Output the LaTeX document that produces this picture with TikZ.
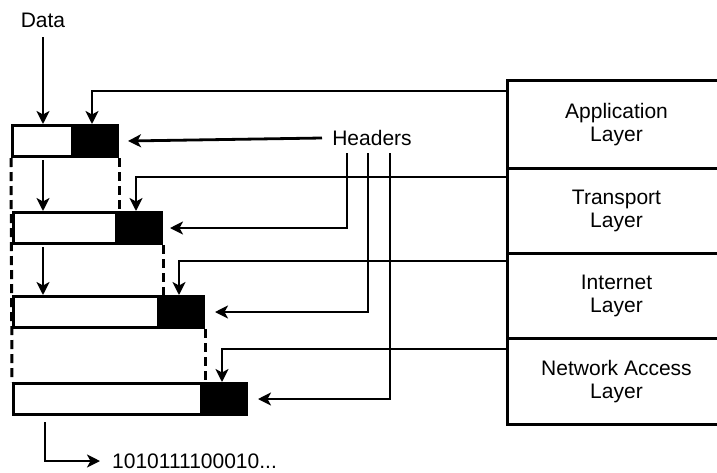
\documentclass[tikz,border=0pt]{standalone}
\usepackage{fontspec}
\setmainfont{Liberation Sans}
\usetikzlibrary{arrows.meta}
\begin{document}
\begin{tikzpicture}[x=1pt,y=-1pt,
  font=\fontsize{21}{23}\selectfont,
  layer/.style={draw, line width=3pt, inner sep=0pt, minimum width=218pt, anchor=north west, align=center},
  bar/.style={draw, line width=3pt, inner sep=0pt, minimum height=31pt, anchor=north west, fill=white},
  hdr/.style={draw, fill=black, line width=3pt, inner sep=0pt, minimum height=31pt, minimum width=45pt, anchor=north east},
  arr/.style={line width=2.8pt, -{Stealth[length=13pt,width=13pt,inset=3.5pt]}},
  dsh/.style={line width=3pt, dash pattern=on 9pt off 5pt},
  lbl/.style={inner sep=2pt}]
\useasboundingbox (0,0) rectangle (717,472);

% layers
\node[layer, minimum height=88pt] (app) at (506,79) {Application\\Layer};
\node[layer, minimum height=85pt] (tra) at (506,167) {Transport\\Layer};
\node[layer, minimum height=85pt] (int) at (506,252) {Internet\\Layer};
\node[layer, minimum height=86pt] (net) at (506,337) {Network Access\\Layer};

% packets
\node[bar, minimum width=105pt] (b1) at (11,124) {};
\node[hdr] (h1) at (b1.north east) {};
\node[bar, minimum width=148pt] (b2) at (12,211) {};
\node[hdr] (h2) at (b2.north east) {};
\node[bar, minimum width=190pt] (b3) at (12,295) {};
\node[hdr] (h3) at (b3.north east) {};
\node[bar, minimum width=233pt] (b4) at (12,382) {};
\node[hdr] (h4) at (b4.north east) {};

% dashed guides
\draw[dsh] (b1.south west) -- (b4.north west);
\draw[dsh] (b1.south east) -- (b2.north -| b1.south east);
\draw[dsh] (b2.south east) -- (b3.north -| b2.south east);
\draw[dsh] (b3.south east) -- (b4.north -| b3.south east);

% data
\node[lbl] (data) at (43,20) {Data};
\coordinate (d0) at (43,37);
\draw[arr] (d0) -- (d0 |- b1.north);
\coordinate (d1) at (43,160);
\draw[arr] (d1) -- (d1 |- b2.north);
\coordinate (d2) at (43,247);
\draw[arr] (d2) -- (d2 |- b3.north);

% header lines from layers
\coordinate (ta) at (92,91);
\draw[arr] (app.west |- ta) -- (ta) -- (ta |- b1.north);
\coordinate (tt) at (136,177);
\draw[arr] (tra.west |- tt) -- (tt) -- (tt |- b2.north);
\coordinate (ti) at (179,261);
\draw[arr] (int.west |- ti) -- (ti) -- (ti |- b3.north);
\coordinate (tn) at (222,349);
\draw[arr] (net.west |- tn) -- (tn) -- (tn |- b4.north);

% Headers label
\node[lbl] (hd) at (372,138) {Headers};
\coordinate (g1) at (322,138);
\draw[arr] (g1) -- ([xshift=9pt]h1.east);
\coordinate (v1) at (347,153);
\coordinate (v2) at (368,153);
\coordinate (v3) at (390,153);
\draw[arr] (v1) -- (v1 |- h2.east) -- ([xshift=7pt]h2.east);
\draw[arr] (v2) -- (v2 |- h3.east) -- ([xshift=10pt]h3.east);
\draw[arr] (v3) -- (v3 |- h4.east) -- ([xshift=10pt]h4.east);

% bit stream
\node[lbl, anchor=west] (bits) at (110,461) {1010111100010...};
\coordinate (e0) at (45,422);
\draw[arr] (e0) -- (e0 |- bits.west) -- ([xshift=-10pt]bits.west);
\end{tikzpicture}
\end{document}
